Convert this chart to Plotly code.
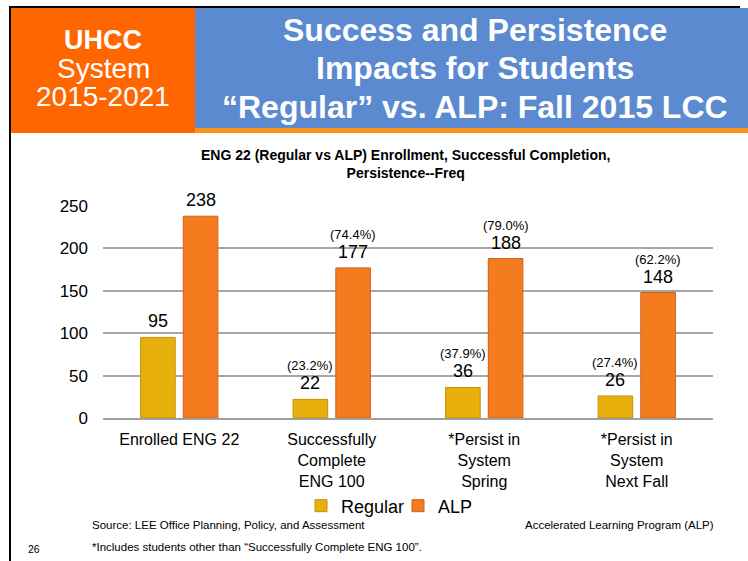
import plotly.graph_objects as go

W, H = 748, 561

categories = ["Enrolled ENG 22", "Successfully<br>Complete<br>ENG 100",
              "*Persist in<br>System<br>Spring", "*Persist in<br>System<br>Next Fall"]
regular_vals = [95, 22, 36, 26]
alp_vals = [238, 177, 188, 148]
regular_pct = ["", "(23.2%)", "(37.9%)", "(27.4%)"]
alp_pct = ["", "(74.4%)", "(79.0%)", "(62.2%)"]
y_ticks = [0, 50, 100, 150, 200, 250]

FONT = "Liberation Sans, Arial, sans-serif"
REG_C, REG_L = "#E8B00C", "#C3920A"
ALP_C, ALP_L = "#F57B1F", "#CF6012"


def px(x):
    return x / W


def py(y):
    return 1 - y / H


def txt(x, y, text, size, color="#000", xanchor="center"):
    return dict(x=px(x), y=py(y), xref="paper", yref="paper", text=text, showarrow=False,
                xanchor=xanchor, yanchor="middle", font=dict(family=FONT, size=size, color=color))


fig = go.Figure()
fig.add_trace(go.Bar(name="Regular", x=categories, y=regular_vals,
                     marker=dict(color=REG_C, line=dict(color=REG_L, width=1))))
fig.add_trace(go.Bar(name="ALP", x=categories, y=alp_vals,
                     marker=dict(color=ALP_C, line=dict(color=ALP_L, width=1))))

annotations = []
for i, cat in enumerate(categories):
    for vals, pcts, off in ((regular_vals, regular_pct, 0), (alp_vals, alp_pct, 1)):
        xs = -21.5 if off == 0 else 21.5
        annotations.append(dict(x=cat, y=vals[i], xref="x", yref="y", text=str(vals[i]),
                                showarrow=False, xanchor="center", yanchor="bottom", yshift=4,
                                xshift=xs, font=dict(family=FONT, size=18, color="#000")))
        if pcts[i]:
            annotations.append(dict(x=cat, y=vals[i], xref="x", yref="y", text=pcts[i],
                                    showarrow=False, xanchor="center", yanchor="bottom", yshift=24,
                                    xshift=xs, font=dict(family=FONT, size=13, color="#000")))

annotations += [
    txt(103, 40, "<b>UHCC</b>", 27, "white"),
    txt(103, 68, "System", 28, "white"),
    txt(103, 97, "2015-2021", 28, "white"),
    txt(475, 30, "<b>Success and Persistence</b>", 32, "white"),
    txt(475, 68, "<b>Impacts for Students</b>", 32, "white"),
    txt(475, 107, "<b>\u201cRegular\u201d vs. ALP: Fall 2015 LCC</b>", 32, "white"),
    txt(405, 164, "<b>ENG 22 (Regular vs ALP) Enrollment, Successful Completion,<br>Persistence--Freq</b>", 14),
    txt(90, 525, "Source: LEE Office Planning, Policy, and Assessment", 11.5, xanchor="left"),
    txt(716, 525, "Accelerated Learning Program (ALP)", 11.5, xanchor="right"),
    txt(90, 547, "*Includes students other than \u201cSuccessfully Complete ENG 100\u201d.", 11.5, xanchor="left"),
    txt(34, 549, "26", 10.5),
]

shapes = [
    dict(type="rect", xref="paper", yref="paper", x0=px(195), x1=px(748), y0=py(128), y1=py(8),
         fillcolor="#5B8AD0", line=dict(width=0), layer="below"),
    dict(type="rect", xref="paper", yref="paper", x0=px(195), x1=px(748), y0=py(133), y1=py(128),
         fillcolor="#F7941D", line=dict(width=0), layer="below"),
    dict(type="rect", xref="paper", yref="paper", x0=px(11), x1=px(195), y0=py(133), y1=py(8),
         fillcolor="#FF6600", line=dict(width=0), layer="below"),
    dict(type="line", xref="paper", yref="paper", x0=px(9), x1=px(740), y0=py(7), y1=py(7),
         line=dict(color="#000", width=2)),
    dict(type="line", xref="paper", yref="paper", x0=px(10), x1=px(10), y0=py(6), y1=py(561),
         line=dict(color="#000", width=2)),
]

fig.update_layout(
    template="none",
    width=W, height=H, autosize=False,
    margin=dict(l=0, r=0, t=0, b=0, pad=0),
    paper_bgcolor="white", plot_bgcolor="white",
    barmode="group", bargap=0.44, bargroupgap=0.19,
    showlegend=True,
    legend=dict(orientation="h", x=px(398), xanchor="center", y=py(506), yanchor="middle",
                font=dict(family=FONT, size=18, color="#000"), itemwidth=30,
                entrywidth=52, entrywidthmode="pixels",
                bgcolor="rgba(0,0,0,0)", borderwidth=0),
    xaxis=dict(domain=[px(103), px(713)], showgrid=False, showline=True, automargin=False,
               linecolor="#A0A0A0", linewidth=2, ticks="",
               tickfont=dict(family=FONT, size=16, color="#000"), ticklabelstandoff=6),
    yaxis=dict(domain=[py(418), py(206)], range=[0, 250], tickvals=y_ticks, showgrid=True,
               automargin=False, gridcolor="#A6A6A6", gridwidth=1.5, zeroline=False,
               showline=False, ticks="", tickfont=dict(family=FONT, size=17, color="#000"),
               ticklabelstandoff=14),
    annotations=annotations,
    shapes=shapes,
    font=dict(family=FONT),
)

fig.write_html("out.html", config={"displayModeBar": False},
               post_script="document.body.style.margin='0';document.body.style.overflow='hidden';")
